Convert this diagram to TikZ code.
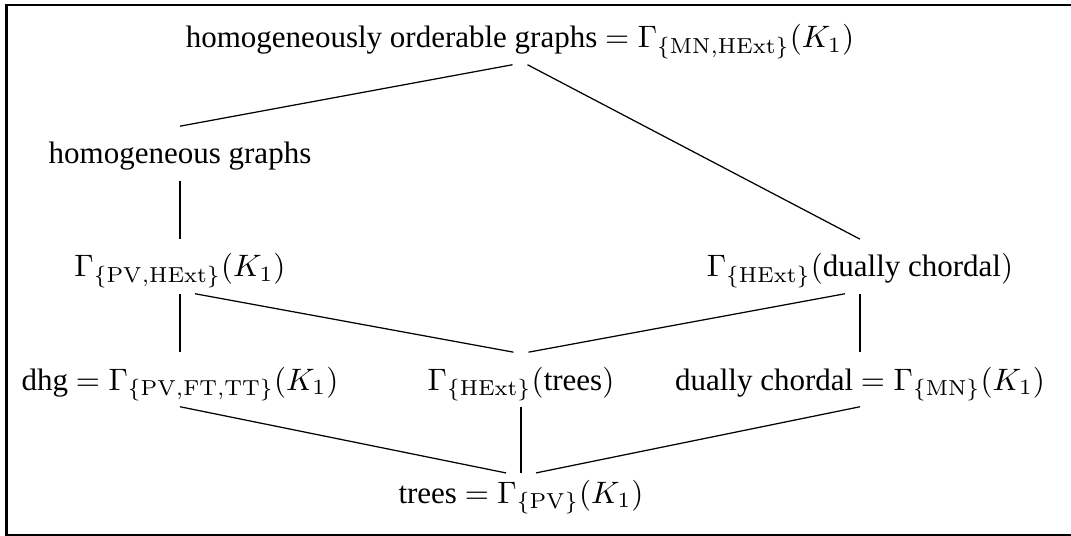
\documentclass[tikz,border=0pt]{standalone}
\usepackage[no-math]{fontspec}
\setmainfont{Liberation Serif}
\usetikzlibrary{calc}

\tikzset{
	lbl/.style={anchor=base, inner sep=0pt, text height=12pt, text depth=5.2pt},
	edge/.style={line width=0.4pt},
	frame/.style={line width=0.8pt}
}

\begin{document}
\begin{tikzpicture}[x=0.01134cm, y=-0.01134cm] % one unit is one pixel of the sketch
	
	% Parameters
	\def\W{1071}
	\def\H{536}
	\def\off{15} % offset of the side ports
	
	\useasboundingbox (0,0) rectangle (\W,\H);
	
	% -----------------------------
	% Frame
	% -----------------------------
	\draw[frame] (1080,5) -- (6.5,5) -- (6.5,535) -- (1080,535);
	
	% -----------------------------
	% Classes
	% -----------------------------
	\node[lbl] (top) at (520,48) {homogeneously orderable graphs $=\Gamma_{\{\mathrm{MN},\mathrm{HExt}\}}(K_1)$};
	\node[lbl] (homog) at (180,164) {homogeneous graphs};
	\node[lbl] (gpv) at (180,277) {$\Gamma_{\{\mathrm{PV},\mathrm{HExt}\}}(K_1)$};
	\node[lbl] (gdc) at (860,277) {$\Gamma_{\{\mathrm{HExt}\}}($dually chordal$)$};
	\node[lbl] (dhg) at (180,390) {dhg $=\Gamma_{\{\mathrm{PV},\mathrm{FT},\mathrm{TT}\}}(K_1)$};
	\node[lbl] (gtrees) at (521,390) {$\Gamma_{\{\mathrm{HExt}\}}($trees$)$};
	\node[lbl] (dc) at (860,390) {dually chordal $=\Gamma_{\{\mathrm{MN}\}}(K_1)$};
	\node[lbl, text height=9.5pt] (trees) at (521,503) {trees $=\Gamma_{\{\mathrm{PV}\}}(K_1)$};
	
	% -----------------------------
	% Inclusions
	% -----------------------------
	\draw[edge] ($(top.south)+(-7.5,0)$) -- (homog.north);
	\draw[edge] ($(top.south)+(7.5,0)$) -- (gdc.north);
	\draw[edge] (homog.south) -- (gpv.north);
	\draw[edge] (gpv.south) -- (dhg.north);
	\draw[edge] ($(gpv.south)+(\off,0)$) -- ($(gtrees.north)+(-7.5,0)$);
	\draw[edge] ($(gdc.south)+(-\off,0)$) -- ($(gtrees.north)+(7.5,0)$);
	\draw[edge] (gdc.south) -- (dc.north);
	\draw[edge] (dhg.south) -- ($(trees.north)+(-\off,0)$);
	\draw[edge] (gtrees.south) -- (trees.north);
	\draw[edge] (dc.south) -- ($(trees.north)+(\off,0)$);
	
\end{tikzpicture}
\end{document}
